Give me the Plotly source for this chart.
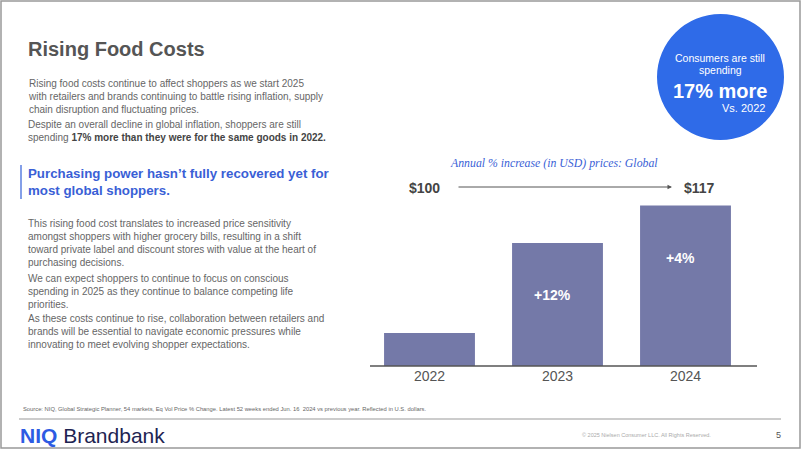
import plotly.graph_objects as go

W, H = 802, 451

years = ["2022", "2023", "2024"]
price_index = [100, 112, 117]
growth_labels = ["", "+12%", "+4%"]
price_labels = ["$100", "$117"]

BAR = "#7479A8"
BLUE = "#2F6BE8"
HEAD_BLUE = "#3A5FD6"
GREY = "#666666"
FONT = "Liberation Sans, Arial, sans-serif"

xpos = list(range(len(years)))


def px(x):
    return x / W


def py(y):
    return 1 - y / H


fig = go.Figure()
fig.add_trace(go.Bar(
    x=xpos, y=price_index, width=0.71, marker=dict(color=BAR, line=dict(width=0)),
    hoverinfo="skip", showlegend=False,
))

ann = []
shapes = []


def text(x, y, t, size, color=GREY, anchor="left", bold=False, family=FONT, italic=False):
    if bold:
        t = "<b>" + t + "</b>"
    if italic:
        t = "<i>" + t + "</i>"
    ann.append(dict(x=px(x), y=py(y), xref="paper", yref="paper", text=t,
                    showarrow=False, xanchor=anchor, yanchor="middle", align=anchor,
                    font=dict(size=size, color=color, family=family)))


def para(x, ytop, lines, size=10):
    ann.append(dict(x=px(x), y=py(ytop), xref="paper", yref="paper", showarrow=False,
                    xanchor="left", yanchor="top", align="left", text="<br>".join(lines),
                    font=dict(size=size, color=GREY, family=FONT)))


# slide frame
shapes.append(dict(type="rect", xref="paper", yref="paper", x0=px(1), x1=px(800), y0=py(1), y1=py(448),
                   line=dict(color="#999999", width=1.5)))

# Title
text(26, 49, "Rising Food Costs", 20, color="#555555", bold=True)

# Paragraphs
para(26, 76, ["Rising food costs continue to affect shoppers as we start 2025",
              "with retailers and brands continuing to battle rising inflation, supply",
              "chain disruption and fluctuating prices."])
para(26, 117, ["Despite an overall decline in global inflation, shoppers are still",
               "spending <b><span style='color:#444444'>17% more than they were for the same goods in 2022.</span></b>"])

# blue heading + bar
shapes.append(dict(type="line", xref="paper", yref="paper", x0=px(21), x1=px(21), y0=py(165), y1=py(199),
                   line=dict(color="#5B7FE0", width=1.5)))
ann.append(dict(x=px(26), y=py(164), xref="paper", yref="paper", showarrow=False,
                xanchor="left", yanchor="top", align="left",
                text="<b>Purchasing power hasn’t fully recovered yet for<br>most global shoppers.</b>",
                font=dict(size=13.3, color=HEAD_BLUE, family=FONT)))

para(26, 216, ["This rising food cost translates to increased price sensitivity",
               "amongst shoppers with higher grocery bills, resulting in a shift",
               "toward private label and discount stores with value at the heart of",
               "purchasing decisions."])
para(26, 271, ["We can expect shoppers to continue to focus on conscious",
               "spending in 2025 as they continue to balance competing life",
               "priorities."])
para(26, 311, ["As these costs continue to rise, collaboration between retailers and",
               "brands will be essential to navigate economic pressures while",
               "innovating to meet evolving shopper expectations."])

# circle callout
shapes.append(dict(type="circle", xref="paper", yref="paper", x0=px(657), x1=px(784), y0=py(14), y1=py(140),
                   fillcolor=BLUE, line=dict(width=0), layer="below"))
text(720, 58, "Consumers are still", 10.5, color="white", anchor="center")
text(720, 70, "spending", 10.5, color="white", anchor="center")
text(720, 91, "17% more", 20, color="white", anchor="center", bold=True)
text(767, 108, "Vs. 2022", 11, color="white", anchor="right")

# chart title
text(554, 163, "Annual % increase (in USD) prices: Global", 11.8, color=HEAD_BLUE,
     anchor="center", family="Liberation Serif, Georgia, serif", italic=True)

# price labels above first and last bars
ann.append(dict(x=xpos[0], y=py(188), xref="x", yref="paper", text="<b>" + price_labels[0] + "</b>",
                showarrow=False, xanchor="center", yanchor="middle", xshift=-5,
                font=dict(size=14, color="#444444", family=FONT)))
ann.append(dict(x=xpos[-1], y=py(188), xref="x", yref="paper", text="<b>" + price_labels[1] + "</b>",
                showarrow=False, xanchor="center", yanchor="middle", xshift=14,
                font=dict(size=14, color="#444444", family=FONT)))
# arrow
ann.append(dict(x=px(672), y=py(187), xref="paper", yref="paper", text="", showarrow=True,
                ax=-215, ay=0, axref="pixel", ayref="pixel", arrowhead=2, arrowsize=0.9,
                arrowwidth=1, arrowcolor="#555555", standoff=0, startstandoff=0))

# growth labels inside bars
for xi, v, lab in zip(xpos, price_index, growth_labels):
    if lab:
        ann.append(dict(x=xi, y=v, xref="x", yref="y", text="<b>" + lab + "</b>", showarrow=False,
                        xanchor="center", yanchor="middle", yshift=-52, xshift=-5,
                        font=dict(size=14, color="white", family=FONT)))

# baseline
shapes.append(dict(type="line", xref="paper", yref="paper", x0=px(370), x1=px(757), y0=py(366), y1=py(366),
                   line=dict(color="#555555", width=1.5), layer="above"))

# footer
text(21, 409, "Source: NIQ, Global Strategic Planner, 54 markets, Eq Vol Price % Change. Latest 52 weeks ended Jun. 16  2024 vs previous year. Reflected in U.S. dollars.",
     5.8, color="#666666")
shapes.append(dict(type="line", xref="paper", yref="paper", x0=px(19), x1=px(781), y0=py(419), y1=py(419),
                   line=dict(color="#999999", width=1)))
ann.append(dict(x=px(18), y=py(435), xref="paper", yref="paper", showarrow=False, xanchor="left",
                yanchor="middle", text="<b><span style='color:#2D5BE3'>NIQ</span></b> <span style='color:#1E2452'>Brandbank</span>",
                font=dict(size=21, family=FONT)))
text(580, 435, "© 2025 Nielsen Consumer LLC. All Rights Reserved.", 5.5, color="#AAAAAA")
text(778, 435, "5", 9, color="#555555", anchor="center")

s = 7.5
v0 = 95.6
ybot, ytop = 366, 190
fig.update_layout(
    width=W, height=H, margin=dict(l=0, r=0, t=0, b=0, pad=0, autoexpand=False),
    paper_bgcolor="white", plot_bgcolor="white",
    xaxis=dict(domain=[px(365.5), px(749.5)], range=[-0.5, len(years) - 0.5], tickmode="array",
               tickvals=xpos, ticktext=years, showgrid=False, zeroline=False, automargin=False,
               showline=False, ticks="", fixedrange=True,
               tickfont=dict(size=14, color="#555555", family=FONT)),
    yaxis=dict(domain=[py(ybot), py(ytop)], range=[v0, v0 + (ybot - ytop) / s], visible=False,
               automargin=False, showgrid=False, zeroline=False, fixedrange=True),
    annotations=ann, shapes=shapes,
)

fig.write_html("out.html", config={"displayModeBar": False},
               post_script="document.body.style.margin='0px';")
